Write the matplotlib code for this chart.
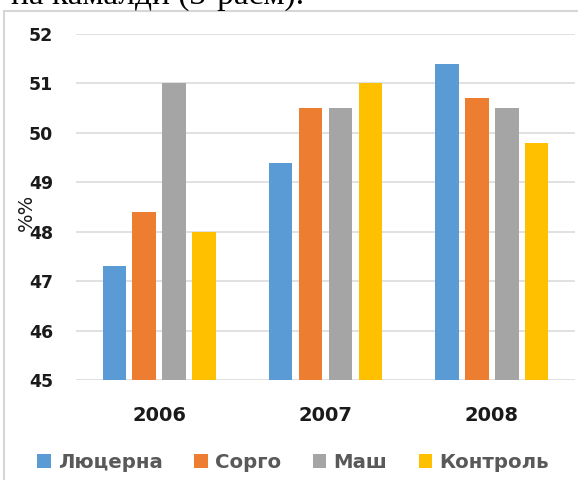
import numpy as np
import matplotlib
matplotlib.use('Agg')
import matplotlib.pyplot as plt
from matplotlib.patches import Patch, Rectangle

# data
years = ['2006', '2007', '2008']
series = ['Люцерна', 'Сорго', 'Маш', 'Контроль']
lyutserna = [47.3, 49.4, 51.4]
sorgo = [48.4, 50.5, 50.7]
mash = [51.0, 50.5, 50.5]
kontrol = [48.0, 51.0, 49.8]
yticks = [45, 46, 47, 48, 49, 50, 51, 52]

colors = ['#5B9BD5', '#ED7D31', '#A5A5A5', '#FFC000']
W, H = 578, 480

fig = plt.figure(figsize=(W / 100, H / 100), dpi=100)
fig.patch.set_facecolor('white')

# axes placed in pixel terms
left, right, top, bottom = 76, 575, 34, 380
ax = fig.add_axes([left / W, 1 - bottom / H, (right - left) / W, (bottom - top) / H])

x = np.arange(len(years))
step = 0.18
width = 0.141
allvals = [lyutserna, sorgo, mash, kontrol]
for i, (vals, name, c) in enumerate(zip(allvals, series, colors)):
    ax.bar(x + (i - 1.5) * step, np.array(vals) - 45, bottom=45, width=width,
           color=c, label=name, zorder=3)

ax.set_xlim(-0.5, 2.5)
ax.set_ylim(45, 52)
ax.set_yticks(yticks)
ax.set_xticks(x)
ax.set_xticklabels(years)
ax.grid(axis='y', color='#d9d9d9', linewidth=1.1, zorder=0)
ax.set_axisbelow(True)
for s in ax.spines.values():
    s.set_visible(False)
ax.tick_params(axis='both', length=0)
ax.tick_params(axis='y', pad=16.5, labelsize=12.5)
ax.tick_params(axis='x', pad=19, labelsize=14)
for t in ax.get_yticklabels() + ax.get_xticklabels():
    t.set_fontweight('bold')
    t.set_color('#1a1a1a')

# y label "%%" overlapping tick labels like the original
fig.text(26 / W, 1 - 212 / H, '%%', rotation=90, fontsize=14,
         ha='center', va='center', color='#1a1a1a')

# legend
handles = [Patch(facecolor=c, edgecolor='none') for c in colors]
leg = fig.legend(handles, series, loc='center', bbox_to_anchor=(293 / W, 1 - 462 / H),
                 ncol=4, frameon=False, fontsize=14.2, handlelength=0.7,
                 handleheight=0.7, handletextpad=0.35, columnspacing=1.6)
for t in leg.get_texts():
    t.set_color('#595959')
    t.set_fontweight('bold')

# chart border (cut off on right and bottom)
fig.add_artist(Rectangle((4 / W, -0.1), 1.2, 1 - 11 / H + 0.1,
                         transform=fig.transFigure, fill=False,
                         edgecolor='#d6d6d6', linewidth=1.5))

# clipped line of body text above the chart
fig.text(304 / W, 1 - 4 / H, 'на камалди (3-расм).', fontsize=24,
         family='Liberation Serif', ha='right', va='baseline', color='black')

fig.savefig('out.png', dpi=100)
plt.close(fig)
